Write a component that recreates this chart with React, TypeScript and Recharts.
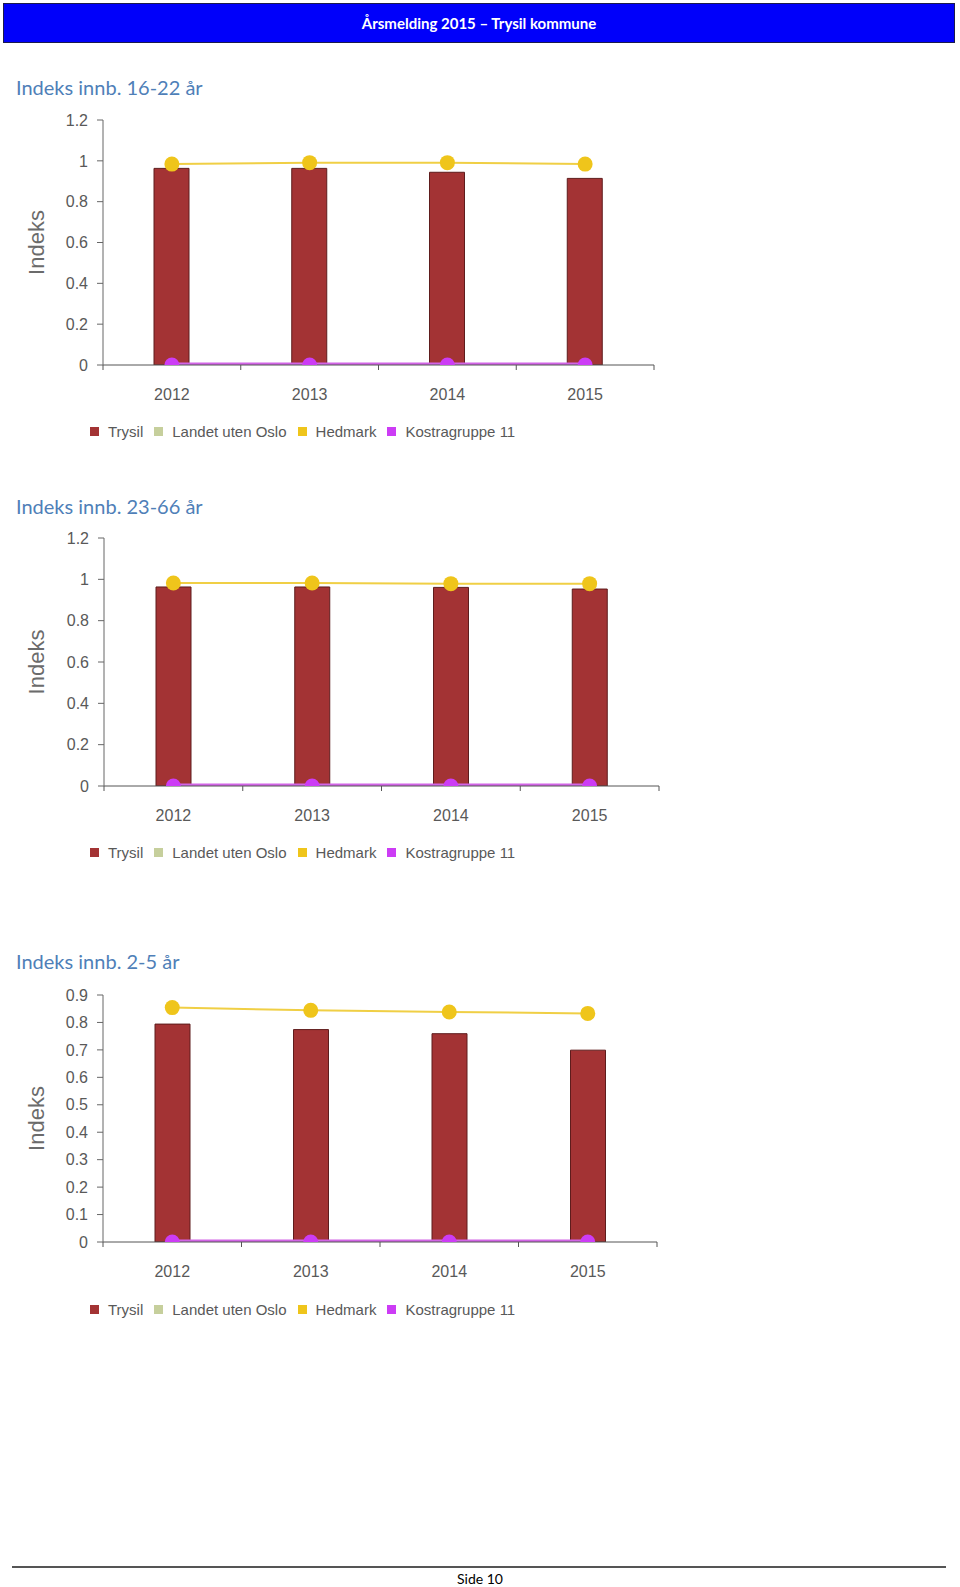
import { Bar, ComposedChart, Line, XAxis, YAxis } from "recharts";

const YEARS = ["2012", "2013", "2014", "2015"];

// Indeks innb. 16-22 år
const TRYSIL_16_22 = [0.963, 0.963, 0.944, 0.914];
const HEDMARK_16_22 = [0.984, 0.991, 0.991, 0.984];
const KOSTRA_16_22 = [0, 0, 0, 0];
const LANDET_16_22 = [null, null, null, null];

// Indeks innb. 23-66 år
const TRYSIL_23_66 = [0.963, 0.963, 0.961, 0.953];
const HEDMARK_23_66 = [0.982, 0.982, 0.979, 0.979];
const KOSTRA_23_66 = [0, 0, 0, 0];
const LANDET_23_66 = [null, null, null, null];

// Indeks innb. 2-5 år
const TRYSIL_2_5 = [0.794, 0.774, 0.759, 0.699];
const HEDMARK_2_5 = [0.854, 0.844, 0.838, 0.833];
const KOSTRA_2_5 = [0, 0, 0, 0];
const LANDET_2_5 = [null, null, null, null];

const TICKS_12 = [0, 0.2, 0.4, 0.6, 0.8, 1, 1.2];
const TICKS_09 = [0, 0.1, 0.2, 0.3, 0.4, 0.5, 0.6, 0.7, 0.8, 0.9];

const SERIES = [
  { key: "trysil", name: "Trysil", color: "#a33334" },
  { key: "landet", name: "Landet uten Oslo", color: "#c6cf9c" },
  { key: "hedmark", name: "Hedmark", color: "#efc51b" },
  { key: "kostra", name: "Kostragruppe 11", color: "#cc3cf5" },
];

const AXIS_FONT = "'Liberation Sans', Arial, sans-serif";
const TEXT_GREY = "#595959";

function buildRows(trysil: number[], landet: (number | null)[], hedmark: number[], kostra: number[]) {
  return YEARS.map((year, i) => ({
    year,
    trysil: trysil[i],
    landet: landet[i],
    hedmark: hedmark[i],
    kostra: kostra[i],
  }));
}

type PanelProps = {
  title: string;
  titleTop: number;
  plotTop: number;
  plotBottom: number;
  plotLeft: number;
  plotRight: number;
  legendTop: number;
  rows: Record<string, string | number | null>[];
  ticks: number[];
};

function Legend() {
  return (
    <div
      style={{
        display: "flex",
        alignItems: "center",
        fontFamily: AXIS_FONT,
        fontSize: 15,
        color: TEXT_GREY,
        whiteSpace: "nowrap",
      }}
    >
      {SERIES.map((s) => (
        <div key={s.key} style={{ display: "flex", alignItems: "center", marginRight: 11 }}>
          <span
            style={{ display: "inline-block", width: 9, height: 9, background: s.color, marginRight: 9 }}
          />
          {s.name}
        </div>
      ))}
    </div>
  );
}

// Year label at band centre, with the axis tick drawn on the band edges (Excel-style)
function makeYearTick(bandWidth: number, axisY: number, count: number) {
  return function YearTick(props: any) {
    const { x, y, payload, index } = props;
    const left = x - bandWidth / 2;
    const right = x + bandWidth / 2;
    return (
      <g>
        <line x1={left} x2={left} y1={axisY} y2={axisY + 5} stroke="#555" />
        {index === count - 1 && <line x1={right} x2={right} y1={axisY} y2={axisY + 5} stroke="#555" />}
        <text
          x={x}
          y={y}
          dy="0.71em"
          textAnchor="middle"
          fontSize={16}
          fill={TEXT_GREY}
          fontFamily={AXIS_FONT}
        >
          {payload.value}
        </text>
      </g>
    );
  };
}

function Panel({ title, titleTop, plotTop, plotBottom, plotLeft, plotRight, legendTop, rows, ticks }: PanelProps) {
  const width = 700;
  const marginTop = 20;
  const top = plotTop - marginTop;
  const height = plotBottom - plotTop + marginTop + 50;
  const domainMax = ticks[ticks.length - 1];
  const bandWidth = (plotRight - plotLeft) / YEARS.length;
  const axisY = marginTop + (plotBottom - plotTop);
  return (
    <>
      <div
        style={{
          position: "absolute",
          left: 16,
          top: titleTop,
          fontFamily: "Lato, 'Open Sans', sans-serif",
          fontSize: 20,
          lineHeight: "24px",
          color: "#4f7fb8",
        }}
      >
        {title}
      </div>
      <div style={{ position: "absolute", left: 0, top }}>
        <ComposedChart
          width={width}
          height={height}
          data={rows}
          margin={{ top: marginTop, right: width - plotRight, left: 0, bottom: 15 }}
        >
          <XAxis
            dataKey="year"
            stroke="#555"
            tickLine={false}
            tickSize={0}
            tickMargin={24}
            height={35}
            interval={0}
            tick={makeYearTick(bandWidth, axisY, YEARS.length)}
          />
          <YAxis
            domain={[0, domainMax]}
            ticks={ticks}
            allowDataOverflow
            width={plotLeft}
            tickSize={6}
            tickMargin={9}
            stroke="#666"
            tick={{ fontSize: 16, fill: TEXT_GREY, fontFamily: AXIS_FONT }}
            label={{
              value: "Indeks",
              angle: -90,
              position: "insideLeft",
              offset: 36,
              style: { textAnchor: "middle", fontSize: 22, fill: "#6b6b6b", fontFamily: AXIS_FONT },
            }}
          />
          <Bar
            dataKey="trysil"
            name="Trysil"
            fill={SERIES[0].color}
            stroke="#5e1c1c"
            strokeWidth={1}
            barSize={35}
            isAnimationActive={false}
          />
          <Line
            dataKey="landet"
            name="Landet uten Oslo"
            stroke={SERIES[1].color}
            strokeWidth={2}
            dot={false}
            isAnimationActive={false}
          />
          <Line
            dataKey="hedmark"
            name="Hedmark"
            stroke="#f0cf45"
            strokeWidth={2}
            dot={{ r: 7.5, fill: SERIES[2].color, stroke: "none" }}
            isAnimationActive={false}
          />
          <Line
            dataKey="kostra"
            name="Kostragruppe 11"
            stroke="#d264e6"
            strokeWidth={5}
            dot={{ r: 7.5, fill: SERIES[3].color, stroke: "none" }}
            isAnimationActive={false}
          />
        </ComposedChart>
      </div>
      <div style={{ position: "absolute", left: 90, top: legendTop - 9 }}>
        <Legend />
      </div>
    </>
  );
}

export default function App() {
  return (
    <div
      style={{
        position: "absolute",
        left: 0,
        top: 0,
        width: 960,
        height: 1587,
        background: "#fff",
        overflow: "hidden",
      }}
    >
      <div
        style={{
          position: "absolute",
          left: 3,
          top: 3,
          width: 950,
          height: 38,
          background: "#0000fa",
          border: "1px solid #1b1b4d",
          color: "#fff",
          fontFamily: "Lato, 'Open Sans', sans-serif",
          fontWeight: 700,
          fontSize: 15,
          lineHeight: "38px",
          textAlign: "center",
        }}
      >
        Årsmelding 2015 – Trysil kommune
      </div>

      <Panel
        title="Indeks innb. 16-22 år"
        titleTop={75}
        plotTop={120}
        plotBottom={365}
        plotLeft={103}
        plotRight={654}
        legendTop={432}
        rows={buildRows(TRYSIL_16_22, LANDET_16_22, HEDMARK_16_22, KOSTRA_16_22)}
        ticks={TICKS_12}
      />
      <Panel
        title="Indeks innb. 23-66 år"
        titleTop={494}
        plotTop={538}
        plotBottom={786}
        plotLeft={104}
        plotRight={659}
        legendTop={853}
        rows={buildRows(TRYSIL_23_66, LANDET_23_66, HEDMARK_23_66, KOSTRA_23_66)}
        ticks={TICKS_12}
      />
      <Panel
        title="Indeks innb. 2-5 år"
        titleTop={949}
        plotTop={995}
        plotBottom={1242}
        plotLeft={103}
        plotRight={657}
        legendTop={1310}
        rows={buildRows(TRYSIL_2_5, LANDET_2_5, HEDMARK_2_5, KOSTRA_2_5)}
        ticks={TICKS_09}
      />

      <div
        style={{
          position: "absolute",
          left: 12,
          top: 1566,
          width: 934,
          height: 2,
          background: "#555",
        }}
      />
      <div
        style={{
          position: "absolute",
          left: 0,
          top: 1570,
          width: 960,
          textAlign: "center",
          fontFamily: "Lato, 'Open Sans', sans-serif",
          fontSize: 14,
          color: "#000",
        }}
      >
        Side 10
      </div>
    </div>
  );
}
